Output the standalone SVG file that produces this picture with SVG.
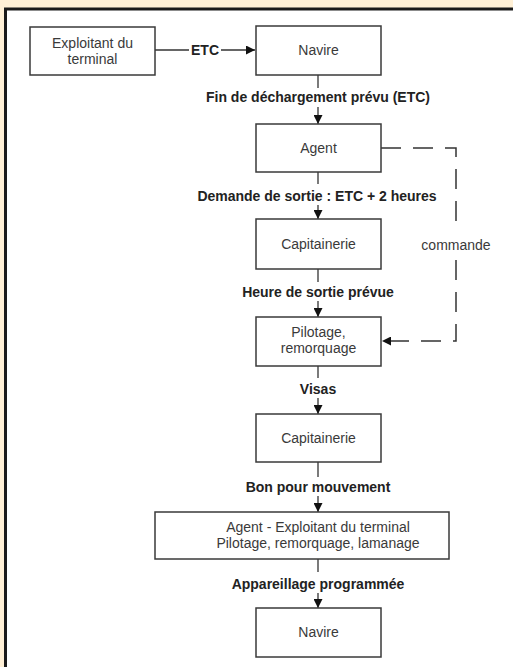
<svg xmlns="http://www.w3.org/2000/svg" width="513" height="667" viewBox="0 0 513 667">
<style>
.box{fill:#fff;stroke:#3a3a3a;stroke-width:1.5}
.nt{font-family:"Liberation Sans",Arial,sans-serif;font-size:14px;fill:#3a3a3a;text-anchor:middle}
.lb{font-family:"Liberation Sans",Arial,sans-serif;font-size:14px;font-weight:bold;fill:#222;text-anchor:middle}
.ln{fill:none;stroke:#333;stroke-width:1.3}
.dash{fill:none;stroke:#333;stroke-width:1.5;stroke-dasharray:20 12}
</style>
<defs>
<marker id="ah" markerWidth="9" markerHeight="9" refX="9" refY="4.5" orient="auto" markerUnits="userSpaceOnUse">
<path d="M0,0 L9,4.5 L0,9 z" fill="#111"/>
</marker>
</defs>
<rect x="0" y="0" width="513" height="667" fill="#FFF0D6"/>
<rect x="5.5" y="9" width="520" height="670" fill="#fff" stroke="#1a1a1a" stroke-width="3"/>

<g id="connectors">
<path class="ln" d="M155,50 H189"/>
<text class="lb" x="205" y="55">ETC</text>
<path class="ln" d="M221,50 H255" marker-end="url(#ah)"/>

<path class="ln" d="M318,75 V88"/>
<text class="lb" x="318" y="102">Fin de déchargement prévu (ETC)</text>
<path class="ln" d="M318,107 V124" marker-end="url(#ah)"/>

<path class="ln" d="M318,172 V184"/>
<text class="lb" x="317" y="201">Demande de sortie : ETC + 2 heures</text>
<path class="ln" d="M318,205 V219" marker-end="url(#ah)"/>

<path class="ln" d="M318,269 V282"/>
<text class="lb" x="318" y="297">Heure de sortie prévue</text>
<path class="ln" d="M318,301 V317" marker-end="url(#ah)"/>

<path class="ln" d="M318,366 V378"/>
<text class="lb" x="318" y="394">Visas</text>
<path class="ln" d="M318,398 V414" marker-end="url(#ah)"/>

<path class="ln" d="M318,462 V477"/>
<text class="lb" x="318" y="492">Bon pour mouvement</text>
<path class="ln" d="M318,496 V512" marker-end="url(#ah)"/>

<path class="ln" d="M318,559 V572"/>
<text class="lb" x="318" y="589">Appareillage programmée</text>
<path class="ln" d="M318,593 V608" marker-end="url(#ah)"/>

<path class="dash" d="M381,148 H456 V233"/>
<path class="dash" d="M456,260 V341 H382" marker-end="url(#ah)" stroke-dashoffset="0"/>
<text class="nt" x="456" y="250">commande</text>
</g>

<g id="exploitant">
<rect class="box" x="30" y="27" width="125" height="48"/>
<text class="nt" x="92.5" y="48">Exploitant du</text>
<text class="nt" x="92.5" y="64">terminal</text>
</g>
<g id="navire1">
<rect class="box" x="256" y="26" width="125" height="49"/>
<text class="nt" x="318.5" y="55">Navire</text>
</g>
<g id="agent">
<rect class="box" x="256" y="124" width="125" height="48"/>
<text class="nt" x="318.5" y="153">Agent</text>
</g>
<g id="capitainerie1">
<rect class="box" x="256" y="219" width="125" height="50"/>
<text class="nt" x="318.5" y="249">Capitainerie</text>
</g>
<g id="pilotage">
<rect class="box" x="256" y="317" width="125" height="49"/>
<text class="nt" x="318.5" y="337">Pilotage,</text>
<text class="nt" x="318.5" y="353">remorquage</text>
</g>
<g id="capitainerie2">
<rect class="box" x="256" y="414" width="125" height="48"/>
<text class="nt" x="318.5" y="443">Capitainerie</text>
</g>
<g id="agentexploitant">
<rect class="box" x="155" y="512" width="294" height="47"/>
<text class="nt" x="318" y="532">Agent - Exploitant du terminal</text>
<text class="nt" x="318" y="548">Pilotage, remorquage, lamanage</text>
</g>
<g id="navire2">
<rect class="box" x="256" y="608" width="125" height="49"/>
<text class="nt" x="318.5" y="637">Navire</text>
</g>
</svg>
